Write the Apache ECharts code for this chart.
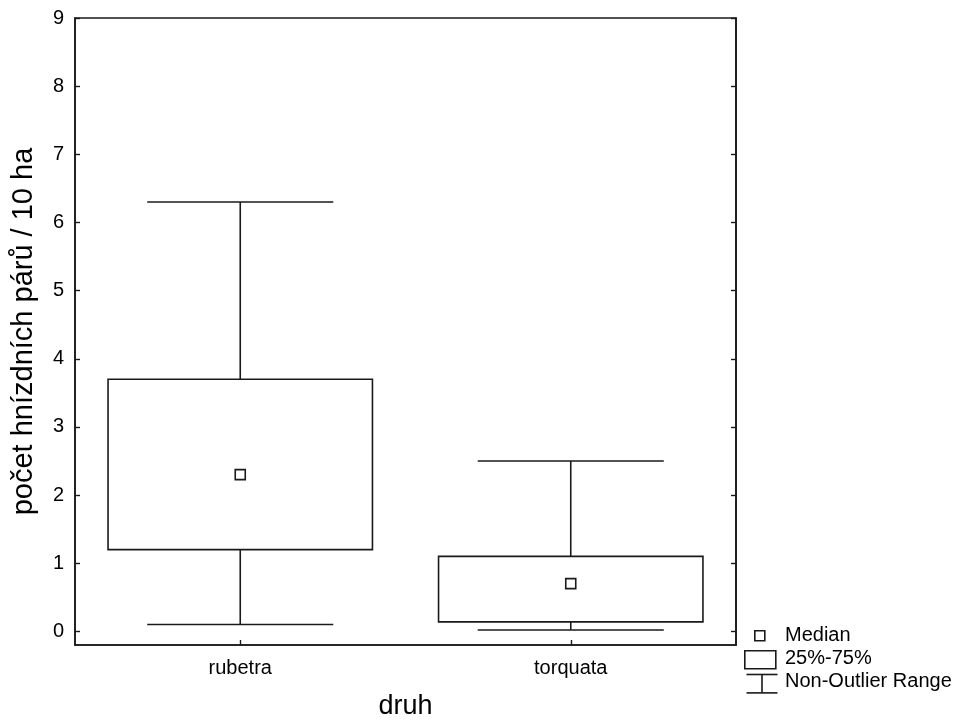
<!DOCTYPE html>
<html>
<head>
<meta charset="utf-8">
<script src="https://cdn.jsdelivr.net/npm/echarts@6/dist/echarts.min.js"></script>
<style>html,body{margin:0;padding:0;background:#fff}#c{width:961px;height:721px}</style>
</head>
<body>
<div id="c"></div>
<script>
const categories = ['rubetra', 'torquata'];
const whiskerLow = [0.1, 0.02];
const q1 = [1.2, 0.14];
const median = [2.3, 0.7];
const q3 = [3.7, 1.1];
const whiskerHigh = [6.3, 2.5];
const yTicks = [0, 1, 2, 3, 4, 5, 6, 7, 8, 9];

const FONT = 'Liberation Sans, Arial, Helvetica, sans-serif';
const INK = '#1a1a1a';

const data = categories.map((c, i) => [i, whiskerLow[i], q1[i], median[i], q3[i], whiskerHigh[i]]);

const chart = echarts.init(document.getElementById('c'), null, {renderer: 'canvas'});

function renderItem(params, api) {
  const idx = api.value(0);
  const band = api.size([1, 0])[0];
  const boxW = band * 0.8;
  const capW = band * 0.563;
  const pLo = api.coord([idx, api.value(1)]);
  const pQ1 = api.coord([idx, api.value(2)]);
  const pMed = api.coord([idx, api.value(3)]);
  const pQ3 = api.coord([idx, api.value(4)]);
  const pHi = api.coord([idx, api.value(5)]);
  const x = pQ1[0];
  const st = {stroke: INK, lineWidth: 1.6, fill: null};
  const ms = 10;
  return {
    type: 'group',
    children: [
      {type: 'line', shape: {x1: x, y1: pHi[1], x2: x, y2: pQ3[1]}, style: st},
      {type: 'line', shape: {x1: x - capW / 2, y1: pHi[1], x2: x + capW / 2, y2: pHi[1]}, style: st},
      {type: 'line', shape: {x1: x, y1: pQ1[1], x2: x, y2: pLo[1]}, style: st},
      {type: 'line', shape: {x1: x - capW / 2, y1: pLo[1], x2: x + capW / 2, y2: pLo[1]}, style: st},
      {type: 'rect', shape: {x: x - boxW / 2, y: pQ3[1], width: boxW, height: pQ1[1] - pQ3[1]}, style: {stroke: INK, lineWidth: 1.6, fill: '#fff'}},
      {type: 'rect', shape: {x: pMed[0] - ms / 2, y: pMed[1] - ms / 2, width: ms, height: ms}, style: {stroke: INK, lineWidth: 1.6, fill: '#fff'}, z2: 5}
    ]
  };
}

const option = {
  animation: false,
  backgroundColor: '#fff',
  grid: {left: 75, right: 225, top: 18, bottom: 76, containLabel: false, outerBoundsMode: 'none', show: true, borderColor: INK, borderWidth: 1.6, backgroundColor: 'transparent'},
  xAxis: {
    type: 'category',
    data: categories,
    boundaryGap: true,
    name: 'druh',
    nameLocation: 'middle',
    nameGap: 48,
    nameTextStyle: {fontFamily: FONT, fontSize: 27, color: '#000'},
    axisLine: {show: true, onZero: false, lineStyle: {color: INK, width: 1.6}},
    axisTick: {show: true, inside: true, length: 5, alignWithLabel: true, lineStyle: {color: INK, width: 1.4}},
    axisLabel: {fontFamily: FONT, fontSize: 20, color: '#000', margin: 13},
    splitLine: {show: false}
  },
  yAxis: [{
    type: 'value',
    min: -0.2,
    max: 9,
    name: 'počet hnízdních párů / 10 ha',
    nameLocation: 'middle',
    nameGap: 37,
    nameRotate: 90,
    nameTextStyle: {fontFamily: FONT, fontSize: 29, color: '#000'},
    axisLine: {show: true, onZero: false, lineStyle: {color: INK, width: 1.6}},
    axisTick: {show: true, inside: true, length: 5, customValues: yTicks, lineStyle: {color: INK, width: 1.4}},
    axisLabel: {fontFamily: FONT, fontSize: 20, color: '#000', margin: 11, customValues: yTicks},
    splitLine: {show: false}
  }, {
    type: 'value',
    position: 'right',
    min: -0.2,
    max: 9,
    axisLine: {show: true, onZero: false, lineStyle: {color: INK, width: 1.6}},
    axisTick: {show: true, inside: true, length: 5, customValues: yTicks, lineStyle: {color: INK, width: 1.4}},
    axisLabel: {show: false, customValues: yTicks},
    splitLine: {show: false}
  }],
  series: [{
    type: 'custom',
    renderItem: renderItem,
    encode: {x: 0, y: [1, 2, 3, 4, 5]},
    data: data,
    clip: false
  }],
  graphic: [
    {type: 'rect', left: 754, top: 630, shape: {width: 10, height: 10}, style: {stroke: INK, lineWidth: 1.6, fill: '#fff'}},
    {type: 'text', left: 785, top: 625, style: {text: 'Median', font: '20px ' + FONT, fill: '#000'}},
    {type: 'rect', left: 744, top: 650, shape: {width: 31, height: 18}, style: {stroke: INK, lineWidth: 1.6, fill: '#fff'}},
    {type: 'text', left: 785, top: 648, style: {text: '25%-75%', font: '20px ' + FONT, fill: '#000'}},
    {type: 'group', left: 744, top: 672, children: [
      {type: 'line', shape: {x1: 0, y1: 0.8, x2: 31, y2: 0.8}, style: {stroke: INK, lineWidth: 1.6}},
      {type: 'line', shape: {x1: 15.5, y1: 0.8, x2: 15.5, y2: 19.2}, style: {stroke: INK, lineWidth: 1.6}},
      {type: 'line', shape: {x1: 0, y1: 19.2, x2: 31, y2: 19.2}, style: {stroke: INK, lineWidth: 1.6}}
    ]},
    {type: 'text', left: 785, top: 671, style: {text: 'Non-Outlier Range', font: '20px ' + FONT, fill: '#000'}}
  ]
};
chart.setOption(option);
</script>
</body>
</html>
